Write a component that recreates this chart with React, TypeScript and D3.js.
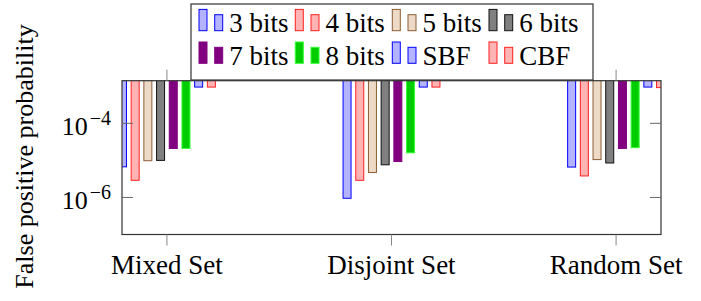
import React from "react";
import * as d3 from "d3";

const categories = ["Mixed Set", "Disjoint Set", "Random Set"];
const seriesNames = ["3 bits", "4 bits", "5 bits", "6 bits", "7 bits", "8 bits", "SBF", "CBF"];
const bits3 = [6.7e-6, 9.5e-7, 6.6e-6];
const bits4 = [2.9e-6, 2.9e-6, 3.8e-6];
const bits5 = [9.8e-6, 4.7e-6, 1.05e-5];
const bits6 = [1.0e-5, 7.6e-6, 8.5e-6];
const bits7 = [2.1e-5, 9.3e-6, 2.1e-5];
const bits8 = [2.1e-5, 1.6e-5, 2.2e-5];
const sbf = [9.5e-4, 9.5e-4, 9.5e-4];
const cbf = [9.5e-4, 9.5e-4, 9.2e-4];
const yTicks = [1e-4, 1e-6];
const yTickExp = ["−4", "−6"];

const seriesValues = [bits3, bits4, bits5, bits6, bits7, bits8, sbf, cbf];
const styles = [
  { fill: "#b3b3ff", stroke: "#0000ff" },
  { fill: "#ffb3b3", stroke: "#ff2020" },
  { fill: "#ecdac6", stroke: "#8c5e34" },
  { fill: "#808080", stroke: "#111111" },
  { fill: "#800080", stroke: "#800080" },
  { fill: "#00cc00", stroke: "#33ff33" },
  { fill: "#b3b3ff", stroke: "#0000ff" },
  { fill: "#ffb3b3", stroke: "#ff2020" },
];

const W = 701, H = 301;
const L = 122, R = 661, T = 80.7, B = 234.5;
const FONT = "Liberation Serif, serif";
const tStyle = { fontFamily: FONT };

export default function App() {
  const x = d3.scalePoint<string>().domain(categories).range([L, R]).padding(0.2);
  const inner = d3.scalePoint<string>().domain(seriesNames).range([-44.45, 44.45]);
  const y = d3.scaleLog().domain([1e-7, Math.pow(10, -2.85)]).range([B, T]);
  const bw = 8;

  const legendCols = [199, 295.3, 392.3, 489];
  const legendRows = [30.7, 63.3];

  return (
    <svg width={W} height={H} style={{ position: "absolute", left: 0, top: 0, fontFamily: FONT }}>
      <rect x={0} y={0} width={W} height={H} fill="#fff" />
      <defs>
        <clipPath id="plotclip">
          <rect x={L} y={T} width={R - L} height={B - T} />
        </clipPath>
      </defs>
      <g clipPath="url(#plotclip)">
        {seriesNames.map((s, si) =>
          categories.map((c, ci) => {
            const cx = (x(c) as number) + (inner(s) as number);
            const v = seriesValues[si][ci];
            const yv = y(v);
            return (
              <rect
                key={s + c}
                x={cx - bw / 2}
                y={T - 2}
                width={bw}
                height={yv - T + 2}
                fill={styles[si].fill}
                stroke={styles[si].stroke}
                strokeWidth={1}
              />
            );
          })
        )}
      </g>
      <rect x={L} y={T} width={R - L} height={B - T} fill="none" stroke="#333" strokeWidth={1.2} />
      {yTicks.map((t, i) => (
        <g key={"yt" + i}>
          <line x1={L} x2={L + 11} y1={y(t)} y2={y(t)} stroke="#666" strokeWidth={1} />
          <line x1={R - 11} x2={R} y1={y(t)} y2={y(t)} stroke="#666" strokeWidth={1} />
          <text x={111} y={y(t) + 11.7} textAnchor="end" fontSize={26} fill="#000" style={tStyle}>
            10
            <tspan fontSize={20} dx={2} dy={-10}>{yTickExp[i]}</tspan>
          </text>
        </g>
      ))}
      {categories.map((c) => (
        <g key={"xt" + c}>
          <line x1={x(c)} x2={x(c)} y1={T - 11} y2={T} stroke="#888" strokeWidth={1} />
          <line x1={x(c)} x2={x(c)} y1={B} y2={B + 11} stroke="#888" strokeWidth={1} />
          <text x={x(c)} y={274.3} textAnchor="middle" fontSize={27} fill="#000" style={tStyle}>
            {c}
          </text>
        </g>
      ))}
      <text transform={`translate(33, 156.5) rotate(-90)`} textAnchor="middle" fontSize={26} fill="#000" style={tStyle}>
        False positive probability
      </text>
      <rect x={191} y={4} width={402} height={76} fill="#fff" stroke="#333" strokeWidth={1.2} />
      {seriesNames.map((s, si) => {
        const col = si % 4;
        const row = Math.floor(si / 4);
        const lx = legendCols[col];
        const by = legendRows[row];
        return (
          <g key={"lg" + s}>
            <rect x={lx} y={by - 21.3} width={bw} height={21.3} fill={styles[si].fill} stroke={styles[si].stroke} strokeWidth={1} />
            <rect x={lx + 15.7} y={by - 16} width={bw} height={16} fill={styles[si].fill} stroke={styles[si].stroke} strokeWidth={1} />
            <text x={lx + 30.3} y={by + 1.5} fontSize={27} fill="#000" style={tStyle}>
              {s}
            </text>
          </g>
        );
      })}
    </svg>
  );
}
